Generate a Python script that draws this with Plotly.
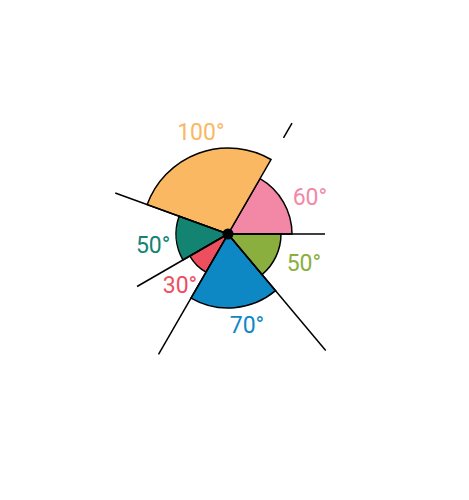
import plotly.graph_objects as go

# Sector data (angles in degrees, counterclockwise from east)
labels = ["60°", "100°", "50°", "30°", "70°", "50°"]
widths = [60, 100, 50, 30, 70, 50]
starts = [0, 60, 160, 210, 240, 310]
radii = [64, 86, 52, 44, 74, 53]
colors = ["#F288A6", "#FBB862", "#138372", "#EE4F5E", "#0E88C4", "#8AAF3E"]

# Label placement (polar coords)
label_r = [89, 103, 76, 71.5, 95, 82]
label_theta = [23, 105.3, 189.8, 227.8, 281.5, 337.8]

# Radial boundary lines
line_theta = [0, 60, 160, 210, 240, 310]
line_start = [0, 111, 0, 0, 0, 0]
line_end = [97, 128, 120, 105, 139, 152]

fig = go.Figure()

for t, s, e in zip(line_theta, line_start, line_end):
    fig.add_trace(go.Scatterpolar(r=[s, e], theta=[t, t], mode="lines",
                                  line=dict(color="black", width=1.5),
                                  showlegend=False, hoverinfo="skip"))

centers = [s + w / 2 for s, w in zip(starts, widths)]
fig.add_trace(go.Barpolar(r=radii, theta=centers, width=widths,
                          marker=dict(color=colors, line=dict(color="black", width=1.5)),
                          showlegend=False))

fig.add_trace(go.Scatterpolar(r=label_r, theta=label_theta, mode="text", text=labels,
                              textfont=dict(size=23, color=colors, family="Roboto"),
                              showlegend=False, hoverinfo="skip"))

fig.add_trace(go.Scatterpolar(r=[0], theta=[0], mode="markers",
                              marker=dict(color="black", size=11),
                              showlegend=False, hoverinfo="skip"))

W, H = 469, 500
cx, cy, R = 228, 234, 160
fig.update_layout(
    width=W, height=H, margin=dict(l=0, r=0, t=0, b=0),
    paper_bgcolor="white", plot_bgcolor="white",
    polar=dict(
        domain=dict(x=[(cx - R) / W, (cx + R) / W], y=[(H - cy - R) / H, (H - cy + R) / H]),
        bgcolor="rgba(0,0,0,0)",
        radialaxis=dict(range=[0, R], visible=False, showgrid=False),
        angularaxis=dict(visible=False, showgrid=False, direction="counterclockwise", rotation=0),
        bargap=0,
    ),
)

fig.write_html("out.html")
